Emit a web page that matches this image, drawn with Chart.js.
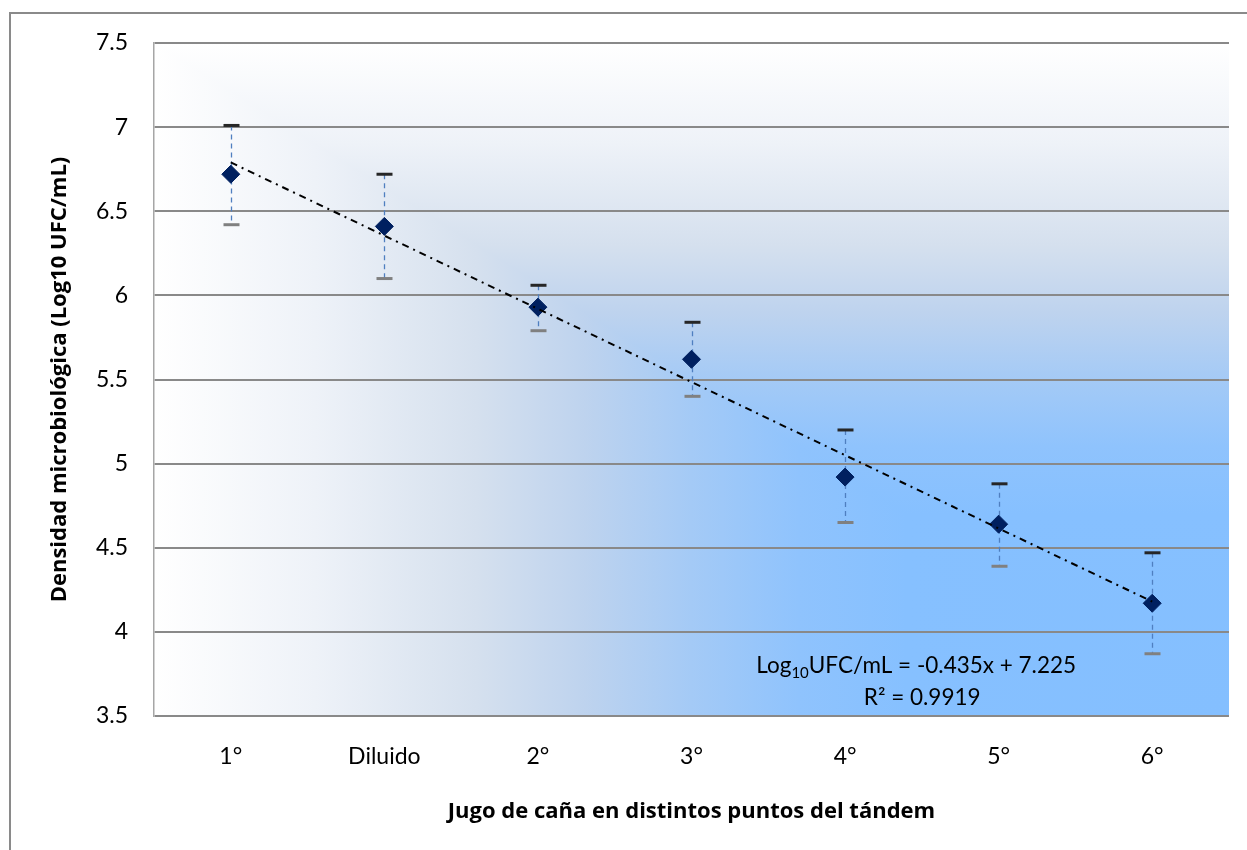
<!DOCTYPE html>
<html lang="es">
<head>
    <meta charset="UTF-8">
    <title>Densidad microbiológica en jugo de caña</title>
    <style>
        body {
            margin: 0;
            background: #fff;
            overflow: hidden;
        }
        .wrap {
            position: relative;
            width: 1247px;
            height: 850px;
        }
        .frame {
            position: absolute;
            left: 9px;
            top: 12px;
            width: 1400px;
            height: 1000px;
            border: 2px solid #8a8a8a;
        }
        canvas {
            position: absolute;
            left: 0;
            top: 0;
        }
    </style>
</head>
<body>
    <div class="wrap">
        <div class="frame"></div>
        <canvas id="chart" width="1247" height="850"></canvas>
    </div>

    <script src="https://cdn.jsdelivr.net/npm/chart.js"></script>
    <script>
        // data
        const categories = ['1°', 'Diluido', '2°', '3°', '4°', '5°', '6°'];
        const means = [6.72, 6.41, 5.93, 5.62, 4.92, 4.64, 4.17];
        const upper = [7.01, 6.72, 6.06, 5.84, 5.20, 4.88, 4.47];
        const lower = [6.42, 6.10, 5.79, 5.40, 4.65, 4.39, 3.87];
        // linear trendline, end points only
        const trend = [6.79, null, null, null, null, null, 4.18];
        const yTicks = [3.5, 4, 4.5, 5, 5.5, 6, 6.5, 7, 7.5];

        const FONT = 'Lato, "Noto Sans", sans-serif';
        const TITLE_FONT = '"Open Sans", Lato, sans-serif';

        // corner gradient: white at top/left edges, blue toward bottom right
        const plotBackground = {
            id: 'plotBackground',
            beforeDraw(chart) {
                const { ctx, chartArea: a } = chart;
                const stops = [
                    [0, '#ffffff'], [0.15, '#eef2f8'], [0.3, '#d5e0ee'],
                    [0.4, '#bed3ee'], [0.5, '#a4caf6'], [0.6, '#8fc3fd'],
                    [0.7, '#86c0ff'], [1, '#84bfff']
                ];
                const gx = ctx.createLinearGradient(a.left, 0, a.right, 0);
                const gy = ctx.createLinearGradient(0, a.top, 0, a.bottom);
                stops.forEach(([p, c]) => { gx.addColorStop(p, c); gy.addColorStop(p, c); });
                ctx.save();
                // whole area follows x first
                ctx.fillStyle = gx;
                ctx.fillRect(a.left, a.top, a.right - a.left, a.bottom - a.top);
                // upper-right triangle follows y
                ctx.beginPath();
                ctx.moveTo(a.left, a.top);
                ctx.lineTo(a.right, a.top);
                ctx.lineTo(a.right, a.bottom);
                ctx.closePath();
                ctx.fillStyle = gy;
                ctx.fill();
                ctx.restore();
            }
        };

        const errorBars = {
            id: 'errorBars',
            beforeDatasetsDraw(chart) {
                const { ctx, scales: { x, y } } = chart;
                ctx.save();
                means.forEach((m, i) => {
                    const px = Math.round(x.getPixelForValue(i)) + 0.5;
                    const top = y.getPixelForValue(upper[i]);
                    const bot = y.getPixelForValue(lower[i]);
                    ctx.setLineDash([5, 4]);
                    ctx.strokeStyle = '#4f7fc0';
                    ctx.lineWidth = 1.3;
                    ctx.beginPath();
                    ctx.moveTo(px, top);
                    ctx.lineTo(px, bot);
                    ctx.stroke();
                    ctx.setLineDash([]);
                    ctx.lineWidth = 3;
                    ctx.strokeStyle = '#262626';
                    ctx.beginPath();
                    ctx.moveTo(px - 8, top);
                    ctx.lineTo(px + 8, top);
                    ctx.stroke();
                    ctx.strokeStyle = '#808080';
                    ctx.beginPath();
                    ctx.moveTo(px - 8, bot);
                    ctx.lineTo(px + 8, bot);
                    ctx.stroke();
                });
                ctx.restore();
            }
        };

        const equation = {
            id: 'equation',
            afterDatasetsDraw(chart) {
                const { ctx, chartArea: a } = chart;
                const cx = a.left + (a.right - a.left) * 0.709;
                const y1 = a.bottom - 43;
                const y2 = a.bottom - 11;
                ctx.save();
                ctx.fillStyle = '#000';
                ctx.textBaseline = 'alphabetic';
                const big = '22.5px ' + FONT;
                const small = '15px ' + FONT;
                const parts = [['Log', big, 0], ['10', small, 5], ['UFC/mL = -0.435x + 7.225', big, 0]];
                let w = 0;
                parts.forEach(([t, f]) => { ctx.font = f; w += ctx.measureText(t).width; });
                let xx = cx - w / 2;
                ctx.textAlign = 'left';
                parts.forEach(([t, f, dy]) => {
                    ctx.font = f;
                    ctx.fillText(t, xx, y1 + dy);
                    xx += ctx.measureText(t).width;
                });
                ctx.font = big;
                ctx.textAlign = 'center';
                ctx.fillText('R² = 0.9919', cx + 6, y2);
                ctx.restore();
            }
        };

        new Chart(document.getElementById('chart'), {
            type: 'line',
            data: {
                labels: categories,
                datasets: [
                    {
                        label: 'Tendencia',
                        data: trend,
                        spanGaps: true,
                        borderColor: '#000',
                        borderWidth: 2,
                        borderDash: [7, 5, 2, 5],
                        pointRadius: 0,
                        order: 0
                    },
                    {
                        label: 'Densidad',
                        data: means,
                        showLine: false,
                        pointStyle: 'rectRot',
                        pointRadius: 9,
                        pointBackgroundColor: '#002060',
                        pointBorderColor: '#002060',
                        pointBorderWidth: 1,
                        order: 1
                    }
                ]
            },
            options: {
                responsive: false,
                devicePixelRatio: 1,
                animation: false,
                layout: { padding: { top: 43, right: 18, bottom: 0, left: 38 } },
                plugins: {
                    legend: { display: false },
                    tooltip: { enabled: false }
                },
                scales: {
                    x: {
                        offset: true,
                        grid: { display: false, drawTicks: false },
                        border: { display: false },
                        ticks: {
                            color: '#000',
                            font: { family: FONT, size: 23 },
                            padding: 27,
                            maxRotation: 0
                        },
                        title: {
                            display: true,
                            text: 'Jugo de caña en distintos puntos del tándem',
                            color: '#000',
                            font: { family: TITLE_FONT, size: 22, weight: 'bold' },
                            padding: { bottom: 25 }
                        },
                        afterFit: scale => { scale.height = 134; }
                    },
                    y: {
                        min: yTicks[0],
                        max: yTicks[yTicks.length - 1],
                        afterBuildTicks: scale => { scale.ticks = yTicks.map(v => ({ value: v })); },
                        grid: { color: '#898989', lineWidth: 2, drawTicks: false },
                        border: { display: true, color: '#a6a6a6', width: 1.5 },
                        ticks: {
                            color: '#000',
                            font: { family: FONT, size: 23 },
                            padding: 26,
                            callback: v => String(v)
                        },
                        title: {
                            display: true,
                            text: 'Densidad microbiológica (Log10 UFC/mL)',
                            color: '#000',
                            font: { family: TITLE_FONT, size: 22, weight: 'bold' },
                            padding: { top: 9 }
                        },
                        afterFit: scale => { scale.width = 116; }
                    }
                }
            },
            plugins: [plotBackground, errorBars, equation]
        });
    </script>
</body>
</html>
